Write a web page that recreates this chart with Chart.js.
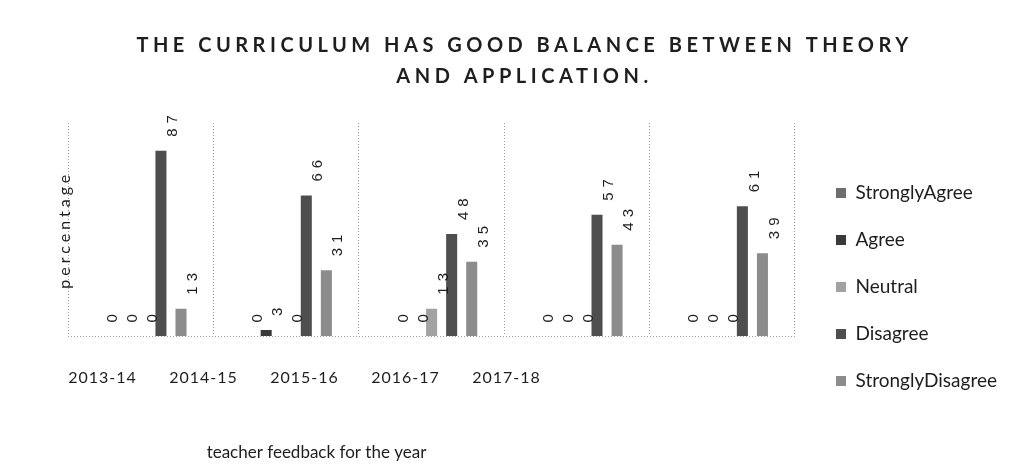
<!DOCTYPE html>
<html>
<head>
<meta charset="utf-8">
<script src="https://cdn.jsdelivr.net/npm/chart.js@4/dist/chart.umd.min.js"></script>
<style>
  html, body { margin: 0; padding: 0; background: #fff; }
  canvas { display: block; }
</style>
</head>
<body>
<canvas id="chart" width="1020" height="475"></canvas>
<script>
// ---- data (percent of teachers) ----
const years            = ['2013-14', '2014-15', '2015-16', '2016-17', '2017-18'];
const stronglyAgree    = [0, 0, 0, 0, 0];
const agree            = [0, 3, 0, 0, 0];
const neutral          = [0, 0, 13, 0, 0];
const disagree         = [87, 66, 48, 57, 61];
const stronglyDisagree = [13, 31, 35, 43, 39];

const TITLE_LINES = ['THE CURRICULUM HAS GOOD BALANCE BETWEEN THEORY', 'AND APPLICATION.'];
const X_TITLE = 'teacher feedback for the year';
const Y_TITLE = 'percentage';

const INK  = '#1e1e1e';
const GRID = '#9a9a9a';
const FONT = 'Lato';

// the year labels on the scan sit left of their bar groups
const YEAR_LEFT  = 52;
const YEAR_RIGHT = 557;

// draw a box/scale method with letter spacing (and an optional x nudge)
function spaced(obj, name, sp, dx) {
  const orig = obj[name];
  obj[name] = function (...args) {
    const c = this.ctx;
    c.save();
    c.letterSpacing = sp;
    c.translate(dx, 0);
    orig.apply(this, args);
    c.restore();
  };
}

const tweaks = {
  id: 'tweaks',
  afterLayout(chart) {
    if (!chart.$patched) {
      chart.$patched = true;
      spaced(chart.titleBlock, 'draw', '4.5px', 0);
      spaced(chart.scales.xl, 'drawLabels', '1px', 0);
      spaced(chart.scales.xl, 'drawTitle', '0px', 12);
      spaced(chart.scales.y, 'drawTitle', '4px', 0);
    }
    const xl = chart.scales.xl;
    xl.left = YEAR_LEFT;
    xl.right = YEAR_RIGHT;
    xl.width = YEAR_RIGHT - YEAR_LEFT;
    xl.configure();
    // legend column sits a bit lower and further right on the scan
    const lg = chart.legend;
    lg.left += 13;
    lg.right += 13;
    lg.top = 100;
    lg.bottom = 474;
    lg.height = lg.bottom - lg.top;
  },
};

// rotated value labels above every bar
const barLabels = {
  id: 'barLabels',
  afterDatasetsDraw(chart) {
    const ctx = chart.ctx;
    chart.data.datasets.forEach((ds, i) => {
      chart.getDatasetMeta(i).data.forEach((bar, j) => {
        ctx.save();
        ctx.translate(bar.x + 12, bar.y - 14);
        ctx.rotate(-Math.PI / 2);
        ctx.font = '15px "Liberation Sans"';
        ctx.letterSpacing = '5px';
        ctx.fillStyle = INK;
        ctx.textAlign = 'left';
        ctx.textBaseline = 'middle';
        ctx.fillText(String(ds.data[j]), 0, 0);
        ctx.restore();
      });
    });
  },
};

function series(label, data, color) {
  return {
    label,
    data,
    backgroundColor: color,
    borderWidth: 0,
    xAxisID: 'x',
    categoryPercentage: 0.69,
    barPercentage: 0.55,
  };
}

new Chart(document.getElementById('chart'), {
  type: 'bar',
  data: {
    labels: years,
    datasets: [
      series('StronglyAgree', stronglyAgree, '#6e6e6e'),
      series('Agree', agree, '#3a3a3a'),
      series('Neutral', neutral, '#a2a2a2'),
      series('Disagree', disagree, '#4e4e4e'),
      series('StronglyDisagree', stronglyDisagree, '#8c8c8c'),
    ],
  },
  options: {
    responsive: false,
    animation: false,
    layout: { padding: { left: 55, right: 26, bottom: 4 } },
    plugins: {
      title: {
        display: true,
        text: TITLE_LINES,
        color: INK,
        font: { family: FONT, size: 20, weight: 'bold', lineHeight: 31 / 20 },
        padding: { top: 30, bottom: 31 },
      },
      legend: {
        position: 'right',
        align: 'center',
        labels: {
          boxWidth: 10,
          boxHeight: 10,
          padding: 28,
          color: INK,
          font: { family: FONT, size: 19 },
        },
      },
      tooltip: { enabled: false },
    },
    scales: {
      x: {
        offset: true,
        grid: { offset: true, color: GRID, drawTicks: false },
        border: { display: false, dash: [1, 2] },
        ticks: { display: false },
      },
      xl: {
        type: 'category',
        position: 'bottom',
        labels: years,
        offset: true,
        grid: { display: false, drawTicks: false },
        border: { display: false },
        ticks: {
          color: INK,
          font: { family: FONT, size: 16 },
          padding: 32,
          maxRotation: 0,
          autoSkip: false,
        },
        title: {
          display: true,
          text: X_TITLE,
          color: INK,
          font: { family: FONT, size: 17 },
          padding: { top: 23, bottom: 8 },
        },
      },
      y: {
        min: 0,
        max: 100,
        grid: {
          color: (c) => (c.tick && c.tick.value === 0 ? GRID : 'rgba(0,0,0,0)'),
          drawTicks: false,
        },
        border: { display: false, dash: [1, 2] },
        ticks: { display: false, stepSize: 100 },
        title: {
          display: true,
          text: Y_TITLE,
          color: INK,
          font: { family: FONT, size: 16 },
          padding: { top: 0, bottom: -6 },
        },
      },
    },
  },
  plugins: [tweaks, barLabels],
});
</script>
</body>
</html>
